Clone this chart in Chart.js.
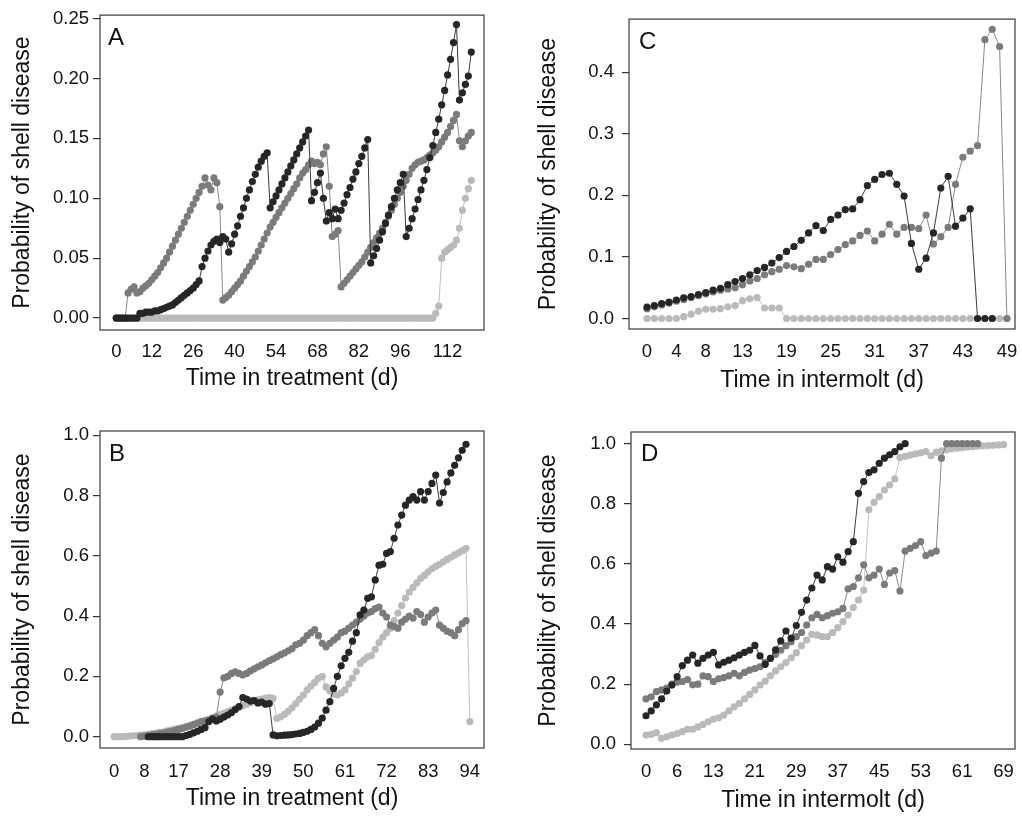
<!DOCTYPE html>
<html>
<head>
<meta charset="utf-8">
<script src="https://cdn.jsdelivr.net/npm/chart.js@4.4.1/dist/chart.umd.min.js"></script>
<style>
  html, body { margin: 0; padding: 0; background: #fff; }
  body { width: 1022px; height: 816px; position: relative; overflow: hidden; }
  canvas { position: absolute; }
</style>
</head>
<body>
<canvas id="panelA" width="511" height="408" style="left:0;top:0"></canvas>
<canvas id="panelC" width="511" height="408" style="left:511px;top:0"></canvas>
<canvas id="panelB" width="511" height="408" style="left:0;top:408px"></canvas>
<canvas id="panelD" width="511" height="408" style="left:511px;top:408px"></canvas>
<script>
(function () {
    "use strict";

    // ---- data ----
    const dayRange = (n) => Array.from({ length: n }, (_, i) => i);

    // Panel A - time in treatment
    const daysA = dayRange(121);
    const blackA = [
        0, 0, 0, 0, 0, 0, 0, 0, 0.004, 0.004,
        0.005, 0.005, 0.005, 0.006, 0.006, 0.007, 0.008, 0.009, 0.010, 0.011,
        0.013, 0.015, 0.017, 0.019, 0.021, 0.023, 0.025, 0.028, 0.031, 0.043,
        0.050, 0.056, 0.061, 0.064, 0.066, 0.063, 0.068, 0.066, 0.055, 0.062,
        0.070, 0.077, 0.085, 0.092, 0.100, 0.107, 0.114, 0.120, 0.126, 0.131,
        0.135, 0.138, 0.092, 0.097, 0.102, 0.107, 0.112, 0.117, 0.122, 0.127,
        0.132, 0.137, 0.142, 0.147, 0.152, 0.157, 0.098, 0.105, 0.113, 0.121,
        0.100, 0.081, 0.088, 0.083, 0.091, 0.083, 0.090, 0.096, 0.103, 0.109,
        0.116, 0.122, 0.129, 0.135, 0.142, 0.149, 0.046, 0.052, 0.058, 0.065,
        0.072, 0.079, 0.086, 0.093, 0.100, 0.107, 0.113, 0.120, 0.068, 0.075,
        0.083, 0.091, 0.099, 0.107, 0.115, 0.124, 0.134, 0.144, 0.155, 0.166,
        0.178, 0.190, 0.203, 0.216, 0.230, 0.245, 0.182, 0.188, 0.195, 0.202,
        0.222
    ];
    const greyA = [
        0, 0, 0, 0, 0.021, 0.024, 0.026, 0.021, 0.022, 0.025,
        0.027, 0.029, 0.032, 0.035, 0.038, 0.042, 0.046, 0.050, 0.055, 0.060,
        0.065, 0.070, 0.075, 0.080, 0.085, 0.090, 0.095, 0.100, 0.105, 0.110,
        0.117, 0.111, 0.107, 0.117, 0.113, 0.093, 0.015, 0.017, 0.019, 0.022,
        0.025, 0.028, 0.031, 0.035, 0.039, 0.043, 0.047, 0.051, 0.056, 0.061,
        0.066, 0.071, 0.076, 0.080, 0.084, 0.088, 0.092, 0.096, 0.100, 0.104,
        0.108, 0.112, 0.117, 0.121, 0.124, 0.128, 0.131, 0.129, 0.130, 0.128,
        0.137, 0.143, 0.110, 0.068, 0.070, 0.073, 0.026, 0.029, 0.032, 0.035,
        0.038, 0.041, 0.044, 0.047, 0.051, 0.055, 0.059, 0.063, 0.067, 0.071,
        0.075, 0.080, 0.085, 0.090, 0.095, 0.100, 0.105, 0.110, 0.115, 0.120,
        0.125, 0.128, 0.130, 0.131, 0.132, 0.134, 0.136, 0.138, 0.140, 0.143,
        0.147, 0.151, 0.155, 0.160, 0.165, 0.170, 0.148, 0.143, 0.148, 0.152,
        0.155
    ];
    const lightA = [
        0, 0, 0, 0, 0, 0, 0, 0, 0, 0,
        0, 0, 0, 0, 0, 0, 0, 0, 0, 0,
        0, 0, 0, 0, 0, 0, 0, 0, 0, 0,
        0, 0, 0, 0, 0, 0, 0, 0, 0, 0,
        0, 0, 0, 0, 0, 0, 0, 0, 0, 0,
        0, 0, 0, 0, 0, 0, 0, 0, 0, 0,
        0, 0, 0, 0, 0, 0, 0, 0, 0, 0,
        0, 0, 0, 0, 0, 0, 0, 0, 0, 0,
        0, 0, 0, 0, 0, 0, 0, 0, 0, 0,
        0, 0, 0, 0, 0, 0, 0, 0, 0, 0,
        0, 0, 0, 0, 0, 0, 0, 0, 0.004, 0.010,
        0.050, 0.055, 0.057, 0.059, 0.061, 0.065, 0.075, 0.090, 0.100, 0.108,
        0.115
    ];
    const xTicksA = [0, 12, 26, 40, 54, 68, 82, 96, 112];
    const yTicksA = [0, 0.05, 0.10, 0.15, 0.20, 0.25];
    const yLabelsA = ["0.00", "0.05", "0.10", "0.15", "0.20", "0.25"];

    // Panel B - time in treatment
    const daysB = dayRange(95);
    const blackB = [
        null, null, null, null, null, null, null, null, null, 0,
        0, 0, 0, 0, 0, 0, 0, 0, 0, 0.004,
        0.008, 0.013, 0.018, 0.024, 0.030, 0.050, 0.058, 0.052, 0.058, 0.065,
        0.072, 0.080, 0.090, 0.100, 0.130, 0.125, 0.118, 0.120, 0.112, 0.115,
        0.108, 0.110, 0.006, 0.003, 0.004, 0.005, 0.006, 0.007, 0.009, 0.011,
        0.014, 0.018, 0.024, 0.032, 0.045, 0.062, 0.088, 0.116, 0.160, 0.200,
        0.235, 0.260, 0.280, 0.317, 0.345, 0.404, 0.420, 0.459, 0.464, 0.520,
        0.569, 0.572, 0.608, 0.614, 0.658, 0.702, 0.735, 0.768, 0.785, 0.796,
        0.785, 0.813, 0.785, 0.813, 0.840, 0.868, 0.775, 0.810, 0.845, 0.875,
        0.900, 0.925, 0.950, 0.970, null
    ];
    const greyB = [
        null, null, null, null, null, null, null, 0, 0.002, 0.004,
        0.006, 0.008, 0.010, 0.012, 0.015, 0.018, 0.021, 0.024, 0.027, 0.031,
        0.035, 0.040, 0.045, 0.050, 0.052, 0.055, 0.060, 0.065, 0.148, 0.195,
        0.200, 0.210, 0.215, 0.210, 0.205, 0.210, 0.218, 0.225, 0.232, 0.238,
        0.245, 0.252, 0.258, 0.265, 0.272, 0.278, 0.285, 0.292, 0.305, 0.310,
        0.320, 0.335, 0.345, 0.355, 0.335, 0.310, 0.298, 0.310, 0.320, 0.330,
        0.345, 0.350, 0.360, 0.370, 0.380, 0.390, 0.400, 0.410, 0.415, 0.425,
        0.430, 0.410, 0.397, 0.370, 0.365, 0.360, 0.380, 0.390, 0.400, 0.393,
        0.415, 0.405, 0.380, 0.397, 0.410, 0.420, 0.370, 0.360, 0.350, 0.345,
        0.335, 0.355, 0.375, 0.385, null
    ];
    const lightB = [
        0, 0, 0, 0.001, 0.002, 0.003, 0.004, 0.005, 0.006, 0.008,
        0.010, 0.012, 0.014, 0.016, 0.019, 0.022, 0.025, 0.028, 0.031, 0.034,
        0.038, 0.042, 0.046, 0.050, 0.054, 0.058, 0.063, 0.068, 0.073, 0.078,
        0.083, 0.088, 0.093, 0.098, 0.103, 0.108, 0.113, 0.118, 0.122, 0.125,
        0.128, 0.130, 0.127, 0.060, 0.066, 0.074, 0.084, 0.096, 0.110, 0.124,
        0.138, 0.155, 0.168, 0.180, 0.194, 0.200, 0.165, 0.152, 0.142, 0.138,
        0.145, 0.155, 0.175, 0.194, 0.216, 0.243, 0.255, 0.265, 0.270, 0.290,
        0.312, 0.330, 0.345, 0.360, 0.385, 0.410, 0.435, 0.460, 0.480, 0.495,
        0.510, 0.525, 0.535, 0.547, 0.557, 0.565, 0.572, 0.580, 0.588, 0.595,
        0.603, 0.610, 0.617, 0.625, 0.050
    ];
    const xTicksB = [0, 8, 17, 28, 39, 50, 61, 72, 83, 94];

    // Panel C - time in intermolt
    const daysC = dayRange(50);
    const blackC = [
        0.0185, 0.021, 0.024, 0.0265, 0.030, 0.0335, 0.0356, 0.039, 0.042, 0.046,
        0.049, 0.055, 0.060, 0.065, 0.071, 0.078, 0.083, 0.090, 0.099, 0.109,
        0.117, 0.127, 0.139, 0.151, 0.143, 0.161, 0.168, 0.177, 0.178, 0.193,
        0.216, 0.226, 0.234, 0.236, 0.218, 0.199, 0.122, 0.080, 0.098, 0.139,
        0.212, 0.231, 0.150, 0.163, 0.178, 0, 0, 0, null, null
    ];
    const greyC = [
        0.016, 0.019, 0.022, 0.025, 0.028, 0.031, 0.034, 0.037, 0.040, 0.043,
        0.046, 0.048, 0.050, 0.055, 0.061, 0.065, 0.071, 0.076, 0.080, 0.086,
        0.084, 0.081, 0.088, 0.096, 0.096, 0.104, 0.112, 0.120, 0.126, 0.135,
        0.142, 0.126, 0.137, 0.153, 0.137, 0.148, 0.148, 0.146, 0.168, 0.121,
        0.133, 0.148, 0.218, 0.262, 0.272, 0.281, 0.453, 0.470, 0.442, 0
    ];
    const lightC = [
        0, 0, 0, 0, 0, 0.003, 0.007, 0.012, 0.015, 0.015,
        0.016, 0.019, 0.021, 0.029, 0.032, 0.034, 0.017, 0.017, 0.017, 0,
        0, 0, 0, 0, 0, 0, 0, 0, 0, 0,
        0, 0, 0, 0, 0, 0, 0, 0, 0, 0,
        0, 0, 0, 0, 0, 0, 0, 0, 0, 0
    ];
    const xTicksC = [0, 4, 8, 13, 19, 25, 31, 37, 43, 49];
    const yTicksC = [0, 0.1, 0.2, 0.3, 0.4];
    const yLabelsC = ["0.0", "0.1", "0.2", "0.3", "0.4"];

    // Panel D - time in intermolt
    const daysD = dayRange(70);
    const blackD = [
        0.095, 0.111, 0.131, 0.151, 0.177, 0.197, 0.225, 0.262, 0.280, 0.297,
        0.270, 0.286, 0.297, 0.306, 0.264, 0.273, 0.280, 0.288, 0.297, 0.306,
        0.313, 0.329, 0.294, 0.266, 0.286, 0.314, 0.344, 0.377, 0.353, 0.395,
        0.439, 0.480, 0.520, 0.563, 0.547, 0.591, 0.583, 0.624, 0.606, 0.641,
        0.674, 0.835, 0.874, 0.904, 0.913, 0.935, 0.952, 0.963, 0.974, 0.990,
        1.000, null, null, null, null, null, null, null, null, null,
        null, null, null, null, null, null, null, null, null, null
    ];
    const greyD = [
        0.151, 0.158, 0.175, 0.181, 0.187, 0.200, 0.207, 0.209, 0.215, 0.198,
        0.200, 0.228, 0.225, 0.209, 0.218, 0.222, 0.228, 0.236, 0.228, 0.239,
        0.247, 0.252, 0.258, 0.272, 0.286, 0.299, 0.313, 0.328, 0.341, 0.358,
        0.372, 0.397, 0.421, 0.432, 0.421, 0.428, 0.436, 0.441, 0.452, 0.517,
        0.525, 0.554, 0.597, 0.554, 0.563, 0.583, 0.532, 0.570, 0.578, 0.510,
        0.643, 0.652, 0.661, 0.674, 0.628, 0.636, 0.643, 0.952, 1.000, 1.000,
        1.000, 1.000, 1.000, 1.000, 1.000, null, null, null, null, null
    ];
    const lightD = [
        0.031, 0.033, 0.039, 0.020, 0.025, 0.031, 0.036, 0.042, 0.050, 0.050,
        0.058, 0.066, 0.075, 0.084, 0.088, 0.097, 0.111, 0.125, 0.136, 0.151,
        0.166, 0.181, 0.197, 0.210, 0.228, 0.244, 0.258, 0.272, 0.288, 0.305,
        0.328, 0.347, 0.366, 0.364, 0.358, 0.358, 0.372, 0.388, 0.408, 0.430,
        0.455, 0.480, 0.513, 0.780, 0.805, 0.824, 0.846, 0.863, 0.883, 0.954,
        0.958, 0.962, 0.966, 0.970, 0.974, 0.960, 0.972, 0.976, 0.980, 0.983,
        0.985, 0.987, 0.989, 0.990, 0.992, 0.993, 0.994, 0.995, 0.996, 0.997
    ];
    const xTicksD = [0, 6, 13, 21, 29, 37, 45, 53, 61, 69];
    const yTicksBD = [0, 0.2, 0.4, 0.6, 0.8, 1.0];
    const yLabelsBD = ["0.0", "0.2", "0.4", "0.6", "0.8", "1.0"];

    // ---- style ----
    const DARK = "#262626";
    const MID = "#7b7b7b";
    const LIGHT = "#bababa";
    const FAMILY = "'Liberation Sans', Arial, Helvetica, sans-serif";
    const TICK_FONT = { family: FAMILY, size: 18.5 };
    const TITLE_FONT = { family: FAMILY, size: 23 };
    const YTITLE = "Probability of shell disease";

    // box round the plot area + panel letter
    const frame = {
        id: "frame",
        afterDraw(chart, args, opts) {
            const { ctx, chartArea: a } = chart;
            ctx.save();
            ctx.strokeStyle = "#3a3a3a";
            ctx.lineWidth = 1.2;
            ctx.strokeRect(a.left, a.top, a.right - a.left, a.bottom - a.top);
            ctx.fillStyle = "#111";
            ctx.font = "24px " + FAMILY;
            ctx.textBaseline = "alphabetic";
            ctx.fillText(opts.letter, a.left + opts.dx, a.top + opts.dy);
            ctx.restore();
        },
    };

    function series(days, values, color) {
        return {
            data: days.map((d, i) => ({ x: d, y: values[i] })),
            borderColor: color,
            backgroundColor: color,
            pointBackgroundColor: color,
            pointBorderWidth: 0,
            pointRadius: 3.6,
            borderWidth: 0.9,
            tension: 0,
            spanGaps: false,
        };
    }

    function makePanel(id, p) {
        return new Chart(document.getElementById(id), {
            type: "line",
            data: {
                datasets: [
                    series(p.days, p.black, DARK),
                    series(p.days, p.grey, MID),
                    series(p.days, p.light, LIGHT),
                ],
            },
            options: {
                responsive: false,
                animation: false,
                devicePixelRatio: 1,
                layout: { padding: p.pad },
                plugins: {
                    legend: { display: false },
                    tooltip: { enabled: false },
                    frame: { letter: p.letter, dx: p.letterX, dy: p.letterY },
                },
                scales: {
                    x: {
                        type: "linear",
                        min: p.xMin,
                        max: p.xMax,
                        afterBuildTicks: (s) => { s.ticks = p.xTicks.map((v) => ({ value: v })); },
                        afterFit: (s) => { s.height = p.xHeight; },
                        grid: { display: false },
                        border: { display: false },
                        ticks: {
                            autoSkip: false,
                            maxRotation: 0,
                            padding: p.xTickPad,
                            color: "#111",
                            font: TICK_FONT,
                            callback: (v, i) => String(p.xTicks[i]),
                        },
                        title: {
                            display: true,
                            text: p.xTitle,
                            color: "#111",
                            font: TITLE_FONT,
                            padding: { top: 0, bottom: p.xTitlePad },
                        },
                    },
                    y: {
                        min: p.yMin,
                        max: p.yMax,
                        afterBuildTicks: (s) => { s.ticks = p.yTicks.map((v) => ({ value: v })); },
                        afterFit: (s) => { s.width = p.yWidth; },
                        grid: {
                            display: true,
                            drawOnChartArea: false,
                            drawTicks: true,
                            tickLength: 7,
                            color: "#333",
                            lineWidth: 1.2,
                        },
                        border: { display: false },
                        ticks: {
                            padding: p.yTickPad,
                            color: "#111",
                            font: TICK_FONT,
                            callback: (v, i) => p.yLabels[i],
                        },
                        title: {
                            display: true,
                            text: YTITLE,
                            color: "#111",
                            font: TITLE_FONT,
                            padding: { top: p.yTitlePad, bottom: 0 },
                        },
                    },
                },
            },
            plugins: [frame],
        });
    }

    makePanel("panelA", {
        days: daysA, black: blackA, grey: greyA, light: lightA,
        letter: "A", letterX: 8, letterY: 30,
        pad: { left: 0, right: 27, top: 13, bottom: 0 },
        xMin: -5.5, xMax: 124.3, xTicks: xTicksA, xHeight: 78, xTickPad: 3,
        xTitle: "Time in treatment (d)", xTitlePad: 16,
        yMin: -0.00995, yMax: 0.2529, yTicks: yTicksA, yLabels: yLabelsA,
        yWidth: 100, yTickPad: 4, yTitlePad: 9,
    });

    makePanel("panelC", {
        days: daysC, black: blackC, grey: greyC, light: lightC,
        letter: "C", letterX: 10, letterY: 30,
        pad: { left: 0, right: 7, top: 13, bottom: 0 },
        xMin: -2.45, xMax: 50.1, xTicks: xTicksC, xHeight: 79, xTickPad: 4,
        xTitle: "Time in intermolt (d)", xTitlePad: 14,
        yMin: -0.0171, yMax: 0.4865, yTicks: yTicksC, yLabels: yLabelsC,
        yWidth: 118, yTickPad: 8, yTitlePad: 24,
    });

    makePanel("panelB", {
        days: daysB, black: blackB, grey: greyB, light: lightB,
        letter: "B", letterX: 9, letterY: 30,
        pad: { left: 0, right: 27, top: 23, bottom: 0 },
        xMin: -3.76, xMax: 97.76, xTicks: xTicksB, xHeight: 68, xTickPad: 5,
        xTitle: "Time in treatment (d)", xTitlePad: 4,
        yMin: -0.0375, yMax: 1.014, yTicks: yTicksBD, yLabels: yLabelsBD,
        yWidth: 100, yTickPad: 4, yTitlePad: 9,
    });

    makePanel("panelD", {
        days: daysD, black: blackD, grey: greyD, light: lightD,
        letter: "D", letterX: 10, letterY: 29,
        pad: { left: 0, right: 7, top: 24, bottom: 0 },
        xMin: -2.9, xMax: 71.2, xTicks: xTicksD, xHeight: 67, xTickPad: 4,
        xTitle: "Time in intermolt (d)", xTitlePad: 2,
        yMin: -0.0156, yMax: 1.039, yTicks: yTicksBD, yLabels: yLabelsBD,
        yWidth: 120, yTickPad: 8, yTitlePad: 24,
    });
})();
</script>
</body>
</html>
